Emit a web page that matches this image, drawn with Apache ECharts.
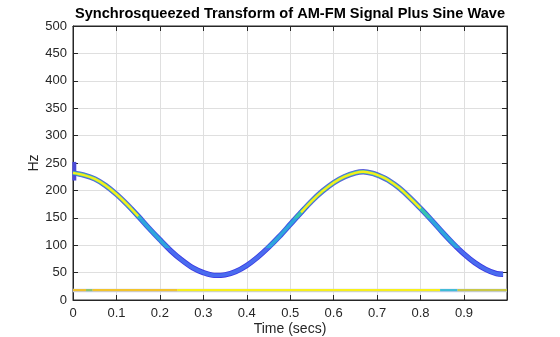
<!DOCTYPE html>
<html>
<head>
<meta charset="utf-8">
<script src="https://cdn.jsdelivr.net/npm/echarts@6/dist/echarts.min.js"></script>
<style>
  html, body { margin: 0; padding: 0; background: #fff; }
  #chart { width: 560px; height: 337px; }
</style>
</head>
<body>
<div id="chart"></div>
<script>
// Ridge of the FM component: time (s) and instantaneous frequency (Hz)
var ridgeTime = [0, 0.025, 0.05, 0.075, 0.1, 0.125, 0.15, 0.175, 0.2, 0.225,
  0.25, 0.275, 0.3, 0.325, 0.35, 0.375, 0.4, 0.425, 0.45, 0.475,
  0.5, 0.525, 0.55, 0.575, 0.6, 0.625, 0.65, 0.668, 0.69, 0.71,
  0.725, 0.75, 0.775, 0.8, 0.825, 0.85, 0.875, 0.9, 0.925, 0.95, 0.975, 0.99];
var ridgeFreq = [232, 228, 221, 209, 193, 174, 153, 131, 110, 90,
  73, 59, 50, 45, 46, 52, 63, 78, 96, 116,
  138, 160, 181, 199, 214, 225, 232, 234, 231, 225,
  219, 205, 187, 167, 146, 124, 103, 84, 68, 56, 48, 47];

// Edge spread of the transform at t = 0
var edgeTime = [0.003, 0.003];
var edgeFreq = [218, 252];

// Sine component: constant frequency over the full record
var sineFreq = 18;
// Colour bands along the sine ridge (time breakpoints)
var sineBreaks = [0, 0.03, 0.045, 0.24, 0.845, 0.885, 0.999];
var sineColors = ['#f0c02c', '#8cc46a', '#f2c42c', '#f8f01a', '#3fbcd6', '#c9c848'];

// Axis ticks
var xTicks = [0, 0.1, 0.2, 0.3, 0.4, 0.5, 0.6, 0.7, 0.8, 0.9];
var yTicks = [0, 50, 100, 150, 200, 250, 300, 350, 400, 450, 500];

function pairs(xs, ys) {
  return xs.map(function (x, i) { return [x, ys[i]]; });
}

var ridge = pairs(ridgeTime, ridgeFreq);
// bright core only where the ridge is high
var ridgeCore = ridge.map(function (p) { return p[1] >= 150 ? p : [p[0], null]; });

var TXT = '#262626';
var FONT = 'Liberation Sans, Arial, Helvetica, sans-serif';

var chart = echarts.init(document.getElementById('chart'), null, { renderer: 'canvas' });

function axisBase(extra) {
  return Object.assign({
    axisLine: { show: true, onZero: false, lineStyle: { color: TXT, width: 1 } },
    axisTick: { show: true, inside: true, length: 5, lineStyle: { color: TXT } }
  }, extra);
}

var series = [
  {
    // faint halo under the sine ridge
    type: 'line', data: [[sineBreaks[0], sineFreq - 0.7], [sineBreaks[sineBreaks.length - 1], sineFreq - 0.7]],
    symbol: 'none', silent: true, z: 2,
    lineStyle: { color: '#c4cdee', width: 3.5 }
  },
  {
    type: 'line', data: ridge, symbol: 'none', smooth: 0.3, silent: true, z: 3,
    lineStyle: { width: 5.4 }
  },
  {
    type: 'line', data: ridge, symbol: 'none', smooth: 0.3, silent: true, z: 4,
    lineStyle: { width: 3.6 }
  },
  {
    type: 'line', data: ridgeCore, symbol: 'none', smooth: 0.3, silent: true, z: 5,
    connectNulls: false,
    lineStyle: { width: 2.4, color: '#f6ee1c' }
  },
  {
    type: 'line', data: pairs(edgeTime, edgeFreq), symbol: 'none', silent: true, z: 3,
    lineStyle: { color: '#4a4ad6', width: 4 }
  }
];
for (var i = 0; i < sineColors.length; i++) {
  series.push({
    type: 'line', data: [[sineBreaks[i], sineFreq], [sineBreaks[i + 1], sineFreq]],
    symbol: 'none', silent: true, z: 4,
    lineStyle: { width: 2.2, color: sineColors[i] }
  });
}

var xRange = { type: 'value', min: 0, max: 0.999, interval: 0.1 };
var yRange = { type: 'value', min: yTicks[0], max: yTicks[yTicks.length - 1], interval: 50 };

chart.setOption({
  animation: false,
  backgroundColor: '#fff',
  title: {
    text: 'Synchrosqueezed Transform of AM-FM Signal Plus Sine Wave',
    left: 285, top: 1, textAlign: 'center',
    textStyle: { fontFamily: FONT, fontSize: 14.6, fontWeight: 'bold', color: '#000' }
  },
  grid: {
    left: 73, right: 53, top: 26, bottom: 37,
    outerBoundsMode: 'none', containLabel: false,
    show: true, borderColor: TXT, borderWidth: 1, backgroundColor: 'transparent'
  },
  xAxis: [
    axisBase(Object.assign({}, xRange, {
      position: 'bottom',
      name: 'Time (secs)', nameLocation: 'middle', nameGap: 22, nameMoveOverlap: false,
      nameTextStyle: { fontFamily: FONT, fontSize: 14, color: TXT },
      splitLine: { show: true, lineStyle: { color: '#dfdfdf', width: 1 } },
      axisLabel: {
        fontFamily: FONT, fontSize: 13, color: TXT, margin: 7,
        formatter: function (v) {
          var hit = xTicks.filter(function (t) { return Math.abs(t - v) < 1e-6; });
          return hit.length ? String(hit[0]) : '';
        }
      }
    })),
    axisBase(Object.assign({}, xRange, {
      position: 'top', axisLabel: { show: false }, splitLine: { show: false }
    }))
  ],
  yAxis: [
    axisBase(Object.assign({}, yRange, {
      position: 'left',
      name: 'Hz', nameLocation: 'middle', nameGap: 32, nameRotate: 90, nameMoveOverlap: false,
      nameTextStyle: { fontFamily: FONT, fontSize: 14, color: TXT },
      splitLine: { show: true, lineStyle: { color: '#dfdfdf', width: 1 } },
      axisLabel: { fontFamily: FONT, fontSize: 13, color: TXT, margin: 6 }
    })),
    axisBase(Object.assign({}, yRange, {
      position: 'right', axisLabel: { show: false }, splitLine: { show: false }
    }))
  ],
  visualMap: [
    { type: 'piecewise', show: false, seriesIndex: 1, dimension: 1,
      pieces: [{ lt: 95, color: '#3a3ae2' }, { gte: 95, lt: 170, color: '#3f4fe4' }, { gte: 170, color: '#5a5ed8' }] },
    { type: 'piecewise', show: false, seriesIndex: 2, dimension: 1,
      pieces: [{ lt: 95, color: '#4a6cef' }, { gte: 95, lt: 150, color: '#2ea6dc' }, { gte: 150, color: '#37c4b0' }] }
  ],
  series: series
});
</script>
</body>
</html>
